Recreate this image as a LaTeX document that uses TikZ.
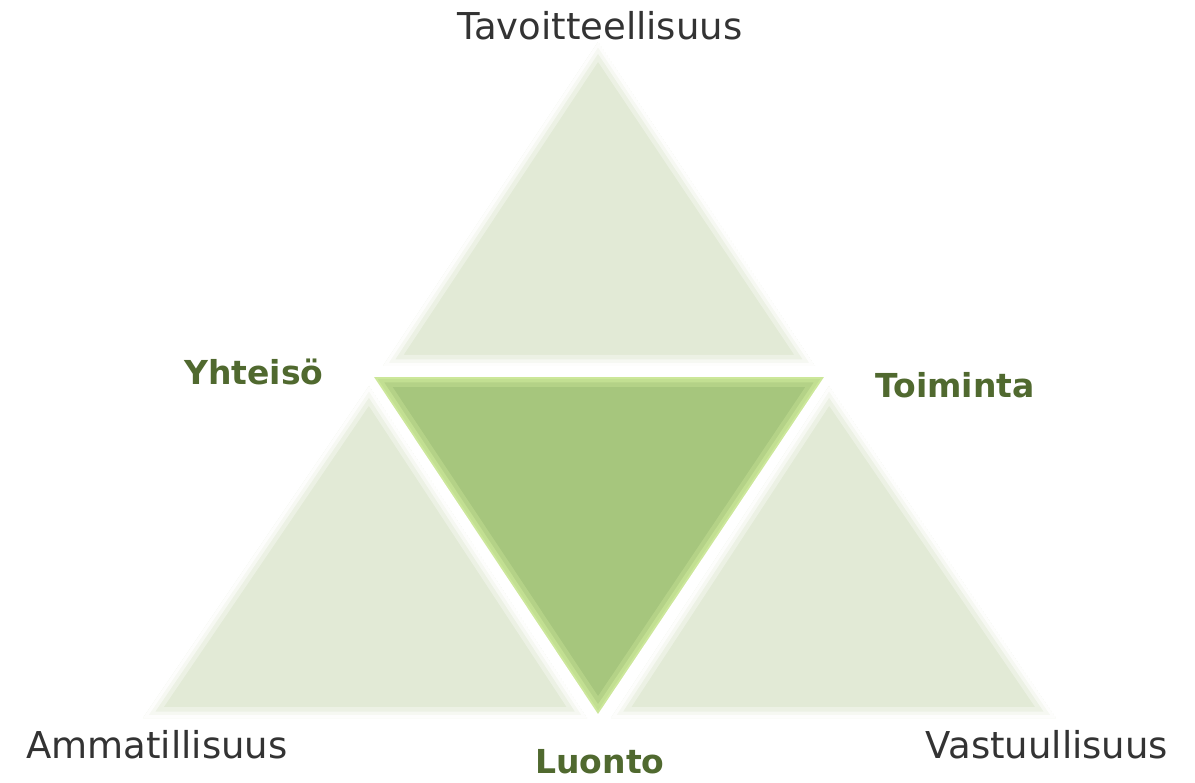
\documentclass[tikz,border=0pt]{standalone}
\usepackage{fontspec}
\setmainfont{DejaVu Sans}
\definecolor{paleg}{HTML}{E2EAD6}
\definecolor{midg}{HTML}{A6C67D}
\definecolor{limeg}{HTML}{CFEA9C}
\definecolor{labelg}{HTML}{50692F}
\definecolor{txt}{HTML}{333333}
\tikzset{
  plain/.style={font=\fontsize{37}{42}\selectfont, text=txt, inner sep=0pt},
  bold/.style={font=\bfseries\fontsize{33}{38}\selectfont, text=labelg, inner sep=0pt},
}
\newcommand{\bevtri}[5]{% #1,#2,#3 coords, #4 fill, #5 bevel colour
  \begin{scope}
    \clip #1 -- #2 -- #3 -- cycle;
    \fill[#4] #1 -- #2 -- #3 -- cycle;
    \draw[#5, opacity=0.35, line width=22pt, line join=miter] #1 -- #2 -- #3 -- cycle;
    \draw[#5, opacity=0.55, line width=13pt, line join=miter] #1 -- #2 -- #3 -- cycle;
    \draw[#5, opacity=0.8, line width=6pt, line join=miter] #1 -- #2 -- #3 -- cycle;
  \end{scope}
}
\begin{document}
\begin{tikzpicture}[x=1pt,y=-1pt]
\useasboundingbox (0,0) rectangle (1195,783);
\fill[white] (0,0) rectangle (1195,783);
% top triangle
\bevtri{(598,42)}{(383,366)}{(815,366)}{paleg}{white}
% left triangle
\bevtri{(369,386)}{(143,718)}{(587,718)}{paleg}{white}
% right triangle
\bevtri{(829,386)}{(611,718)}{(1056,718)}{paleg}{white}
% centre triangle
\bevtri{(372,376)}{(826,376)}{(598,716)}{midg}{limeg}
\draw[white, line width=2pt, line join=miter] (372,376) -- (826,376) -- (598,716) -- cycle;
% labels
\node[plain] (tav) at (600,26) {Tavoitteellisuus};
\node[plain] (amm) at (157,745) {Ammatillisuus};
\node[plain] (vas) at (1047,745) {Vastuullisuus};
\node[bold] (yht) at (254,372) {Yhteisö};
\node[bold] (toi) at (955,385) {Toiminta};
\node[bold] (luo) at (600,762) {Luonto};
\end{tikzpicture}
\end{document}
